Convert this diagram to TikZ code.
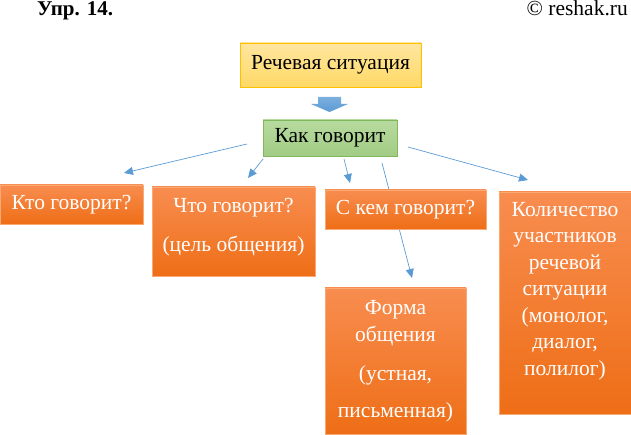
\documentclass[tikz,border=0pt]{standalone}
\usepackage{fontspec}
\setmainfont{Liberation Serif}
\usetikzlibrary{arrows.meta}
\definecolor{ortop}{HTML}{F88D50}
\definecolor{orbot}{HTML}{EE6E16}
\definecolor{orline}{HTML}{F9A974}
\definecolor{yetop}{HTML}{FFE6A0}
\definecolor{yebot}{HTML}{FFD966}
\definecolor{yeline}{HTML}{FFC000}
\definecolor{grtop}{HTML}{B7DB9F}
\definecolor{grbot}{HTML}{A2CC85}
\definecolor{grline}{HTML}{7FB85A}
\definecolor{lnkblue}{HTML}{5B9BD5}
\tikzset{
  obox/.style={draw=orline, top color=ortop, bottom color=orbot, text=white, align=center, inner sep=0pt, font=\fontsize{21.5}{26.5}\selectfont},
  otext/.style={text=white, align=center, inner sep=0pt, font=\fontsize{21.5}{26.5}\selectfont},
  lnk/.style={draw=lnkblue, line width=0.7pt, -{Triangle[length=9pt,width=8pt]}}
}
\begin{document}
\begin{tikzpicture}[x=1pt,y=-1pt]
\useasboundingbox (0,0) rectangle (631,435);
\node[font=\bfseries\fontsize{21}{24}\selectfont, anchor=base west, inner sep=0pt] (upr) at (37,16) {Упр. 14.};
\node[font=\fontsize{21.5}{24}\selectfont, anchor=base east, inner sep=0pt] (site) at (628,16) {© reshak.ru};
% connectors first, boxes cover them
\coordinate (a1) at (247,144);
\coordinate (b1) at (124,173);
\coordinate (a2) at (263,159);
\coordinate (b2) at (248,178);
\coordinate (a3) at (344,159);
\coordinate (b3) at (350,183);
\coordinate (a4) at (382,163);
\coordinate (b4) at (412,278);
\coordinate (a5) at (408,147);
\coordinate (b5) at (528,180);
\draw[lnk] (a1) -- (b1);
\draw[lnk] (a2) -- (b2);
\draw[lnk] (a3) -- (b3);
\draw[lnk] (a4) -- (b4);
\draw[lnk] (a5) -- (b5);
\node[draw=yeline, top color=yetop, bottom color=yebot, minimum width=181pt, minimum height=44pt, font=\fontsize{21.5}{24}\selectfont] (sit) at (330.5,65) {Речевая ситуация};
% block arrow
\draw[draw=none, top color=lnkblue!80, bottom color=lnkblue] (318,97) -- (341,97) -- (341,104) -- (348,104) -- (329.5,112) -- (311,104) -- (318,104) -- cycle;
\node[draw=grline, top color=grtop, bottom color=grbot, minimum width=134pt, minimum height=36pt, font=\fontsize{21.5}{24}\selectfont] (kak) at (330,138) {Как говорит};
\node[obox, minimum width=143pt, minimum height=39pt] (kto) at (71.5,204.5) {Кто говорит?};
\node[obox, minimum width=163pt, minimum height=89pt] (chto) at (233.5,231.5) {};
\node[otext] (chto-t) at ([yshift=4.5pt]chto) {Что говорит?\\[13pt](цель общения)};
\node[obox, minimum width=161pt, minimum height=39pt] (skem) at (405.5,209.5) {С кем говорит?};
\node[obox, minimum width=141pt, minimum height=146pt] (forma) at (395.5,361) {};
\node[otext] (forma-t) at (forma) {Форма\\общения\\[13pt](устная,\\[10pt]письменная)};
\node[obox, minimum width=132pt, minimum height=222pt] (kol) at (565,303) {};
\node[otext] (kol-t) at ([yshift=12pt]kol) {Количество\\участников\\речевой\\ситуации\\(монолог,\\диалог,\\полилог)};
\end{tikzpicture}
\end{document}
